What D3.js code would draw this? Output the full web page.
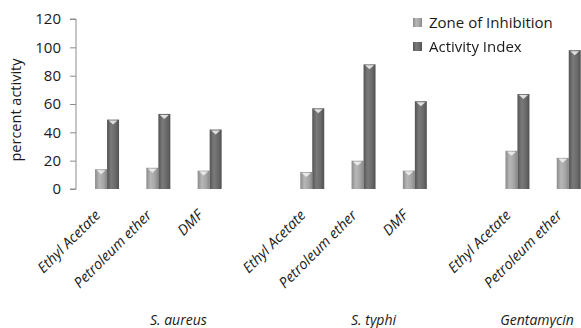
<!DOCTYPE html>
<html>
<head>
<meta charset="utf-8">
<script src="https://cdn.jsdelivr.net/npm/d3@7"></script>
<style>
  html, body { margin: 0; padding: 0; background: #fff; }
  svg { display: block; }
  text { font-family: "Open Sans", "DejaVu Sans", sans-serif; fill: #1a1a1a; }
</style>
</head>
<body>
<svg id="chart" width="581" height="328"></svg>
<script>
// Organisms (group labels) and the solvent extracts tested against each
const organisms = ["S. aureus", "S. typhi", "Gentamycin"];
const solvents = [
  ["Ethyl Acetate", "Petroleum ether", "DMF"],
  ["Ethyl Acetate", "Petroleum ether", "DMF"],
  ["Ethyl Acetate", "Petroleum ether"]
];
// Series values, in the same order as the solvents above
const zoneOfInhibition = [14, 15, 13, 12, 20, 13, 27, 22];
const activityIndex    = [49, 53, 42, 57, 88, 62, 67, 98];
const seriesNames = ["Zone of Inhibition", "Activity Index"];
const yTicks = [0, 20, 40, 60, 80, 100, 120];
const yTitle = "percent activity";

const svg = d3.select("#chart");
const plot = { left: 76, top: 19, bottom: 189, slotStart: 81.4, slotStep: 51.3 };

// One slot per solvent plus an empty spacer slot after each organism
const slots = [];
const rows = [];
organisms.forEach((org, gi) => {
  solvents[gi].forEach(s => {
    const id = org + "|" + s;
    slots.push(id);
    rows.push({ id, organism: org, solvent: s });
  });
  if (gi < organisms.length - 1) slots.push(org + "|gap");
});
rows.forEach((r, i) => { r.values = [zoneOfInhibition[i], activityIndex[i]]; });

const x = d3.scaleBand()
  .domain(slots)
  .range([plot.slotStart, plot.slotStart + plot.slotStep * slots.length]);
const xs = d3.scaleBand()
  .domain([0, 1])
  .range([0, x.bandwidth()])
  .paddingInner(0)
  .paddingOuter(1.14);
const y = d3.scaleLinear().domain([0, 120]).range([plot.bottom, plot.top]);

// Gradients giving the bars a rounded, shaded look
const defs = svg.append("defs");
const shades = [
  ["#8a8a8a", "#b7b7b7", "#a6a6a6", "#878787"],
  ["#545454", "#7a7a7a", "#6a6a6a", "#515151"]
];
shades.forEach((c, i) => {
  const g = defs.append("linearGradient").attr("id", "bar" + i)
    .attr("x1", 0).attr("x2", 1).attr("y1", 0).attr("y2", 0);
  g.append("stop").attr("offset", "0%").attr("stop-color", c[0]);
  g.append("stop").attr("offset", "35%").attr("stop-color", c[1]);
  g.append("stop").attr("offset", "70%").attr("stop-color", c[2]);
  g.append("stop").attr("offset", "100%").attr("stop-color", c[3]);
});
defs.append("filter").attr("id", "soft")
  .append("feGaussianBlur").attr("stdDeviation", 0.5);

// Y axis: line with outward ticks
const yAxis = d3.axisLeft(y).tickValues(yTicks).tickSize(6).tickPadding(9);
const ya = svg.append("g").attr("transform", `translate(${plot.left},0)`).call(yAxis);
ya.select(".domain").attr("stroke", "#8c8c8c").attr("d", `M-6,${y(0)}H0V${y(120)}H-6`);
ya.selectAll(".tick line").attr("stroke", "#8c8c8c");
ya.selectAll(".tick text")
  .style("font-family", "'Open Sans', sans-serif")
  .style("font-size", "15px").attr("fill", "#1a1a1a");

svg.append("text")
  .attr("transform", `translate(21,${(y(0) + y(120)) / 2 + 6}) rotate(-90)`)
  .attr("text-anchor", "middle")
  .style("font-size", "14.5px")
  .text(yTitle);

// Bars
const bars = svg.append("g").attr("filter", "url(#soft)");
rows.forEach(r => {
  r.values.forEach((v, si) => {
    const bx = x(r.id) + xs(si), bw = xs.bandwidth();
    const top = y(v);
    bars.append("rect")
      .attr("x", bx).attr("y", top)
      .attr("width", bw).attr("height", y(0) - top)
      .attr("fill", `url(#bar${si})`);
    bars.append("path")
      .attr("d", `M${bx + 1.5},${top + 1}H${bx + bw - 1.5}L${bx + bw / 2},${top + 5}Z`)
      .attr("fill", "#f2f2f2").attr("opacity", 0.85);
  });
});

// Solvent labels, slanted under each slot
const catG = svg.append("g");
rows.forEach(r => {
  const cx = x(r.id) + x.bandwidth() / 2;
  catG.append("text")
    .attr("transform", `translate(${cx - 13},${plot.bottom + 20}) rotate(-45)`)
    .attr("text-anchor", "end")
    .attr("dy", "0.7em")
    .style("font-size", "14.5px")
    .style("font-style", "italic")
    .text(r.solvent);
});

// Organism labels beneath their solvent groups
const groupShift = [20, 10, -6];
organisms.forEach((org, gi) => {
  const ids = rows.filter(r => r.organism === org).map(r => x(r.id) + x.bandwidth() / 2);
  const cx = d3.mean(ids) + groupShift[gi];
  svg.append("text")
    .attr("x", cx).attr("y", 325)
    .attr("text-anchor", "middle")
    .style("font-size", "14px")
    .style("font-style", "italic")
    .text(org);
});

// Legend
const leg = svg.append("g").attr("transform", "translate(413,18)");
seriesNames.forEach((name, i) => {
  const g = leg.append("g").attr("transform", `translate(0,${i * 24})`);
  g.append("rect").attr("width", 9).attr("height", 9)
    .attr("fill", `url(#bar${i})`).attr("filter", "url(#soft)");
  g.append("text").attr("x", 16).attr("y", 9.5)
    .style("font-size", "15px")
    .text(name);
});
</script>
</body>
</html>
